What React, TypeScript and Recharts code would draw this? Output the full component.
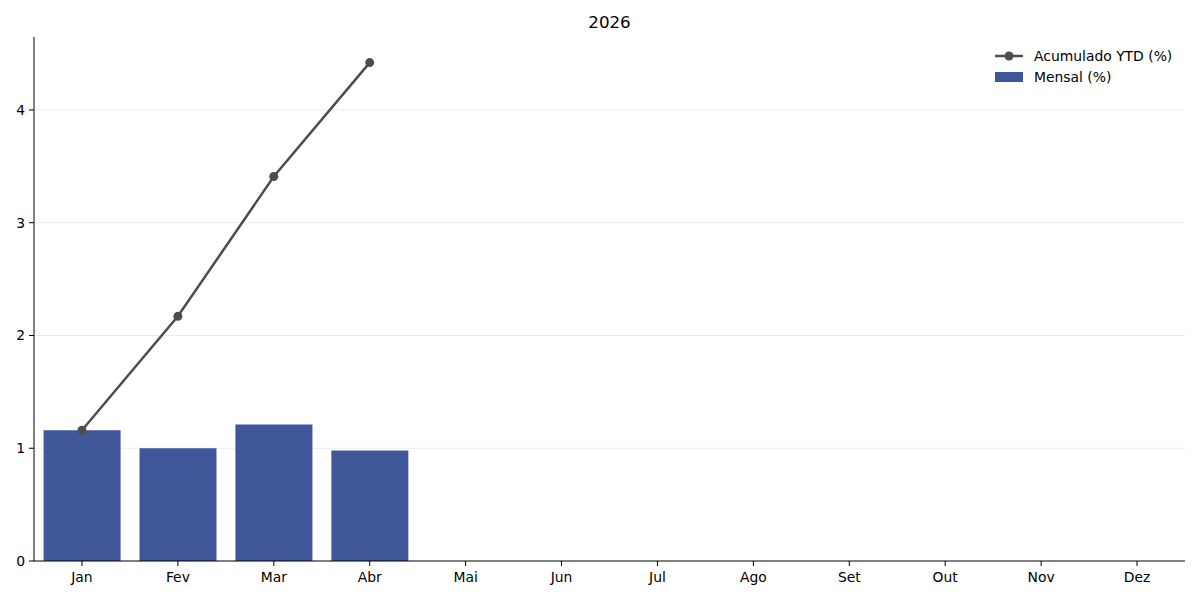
import {
  Bar,
  CartesianGrid,
  ComposedChart,
  Line,
  XAxis,
  YAxis,
} from "recharts";

const months = ["Jan", "Fev", "Mar", "Abr", "Mai", "Jun", "Jul", "Ago", "Set", "Out", "Nov", "Dez"];
const monthly = [1.16, 1.0, 1.21, 0.98];
const ytd = [1.16, 2.17, 3.41, 4.42];
const yTicks = [0, 1, 2, 3, 4];
const gridValues = [1, 2, 3, 4];

const data = months.map((m, i) => ({
  month: m,
  mensal: i < monthly.length ? monthly[i] : null,
  ytd: i < ytd.length ? ytd[i] : null,
}));

const FONT = "'DejaVu Sans', sans-serif";
const BAR_COLOR = "#3f5799";
const LINE_COLOR = "#4d4d4d";
const FS = 13.9;

function Legend() {
  return (
    <div
      style={{
        position: "absolute",
        left: 995,
        top: 46,
        fontFamily: FONT,
        fontSize: FS,
        color: "#000",
        lineHeight: "20px",
      }}
    >
      <div style={{ display: "flex", alignItems: "center" }}>
        <svg width={28} height={20} style={{ marginRight: 11 }}>
          <line x1={0} y1={10} x2={28} y2={10} stroke={LINE_COLOR} strokeWidth={2.5} />
          <circle cx={14} cy={10} r={4.5} fill={LINE_COLOR} />
        </svg>
        <span>Acumulado YTD (%)</span>
      </div>
      <div style={{ display: "flex", alignItems: "center", marginTop: 1 }}>
        <svg width={28} height={20} style={{ marginRight: 11 }}>
          <rect x={0} y={5} width={28} height={10} fill={BAR_COLOR} />
        </svg>
        <span>Mensal (%)</span>
      </div>
    </div>
  );
}

export default function App() {
  return (
    <div
      style={{
        position: "fixed",
        left: 0,
        top: 0,
        width: 1200,
        height: 600,
        background: "#fff",
        fontFamily: FONT,
      }}
    >
      <div
        style={{
          position: "absolute",
          top: 12,
          left: 34,
          width: 1151,
          textAlign: "center",
          fontSize: 16.7,
        }}
      >
        2026
      </div>
      <ComposedChart
        width={1200}
        height={600}
        data={data}
        margin={{ top: 37, right: 15, left: 0, bottom: 0 }}
        barCategoryGap="10%"
      >
        <CartesianGrid
          vertical={false}
          horizontalValues={gridValues}
          stroke="#ebebeb"
          strokeWidth={1}
        />
        <XAxis
          dataKey="month"
          height={39}
          tick={{ fill: "#000", fontSize: FS, fontFamily: FONT }}
          tickSize={5}
          tickMargin={6}
          axisLine={{ stroke: "#000", strokeWidth: 1 }}
          tickLine={{ stroke: "#000" }}
        />
        <YAxis
          width={34}
          domain={[0, 4.647]}
          ticks={yTicks}
          allowDataOverflow
          tick={{ fill: "#000", fontSize: FS, fontFamily: FONT }}
          tickSize={5}
          tickMargin={4}
          axisLine={{ stroke: "#000", strokeWidth: 1 }}
          tickLine={{ stroke: "#000" }}
        />
        <Bar dataKey="mensal" fill={BAR_COLOR} isAnimationActive={false} />
        <Line
          dataKey="ytd"
          stroke={LINE_COLOR}
          strokeWidth={2.5}
          dot={{ r: 4.5, fill: LINE_COLOR, stroke: LINE_COLOR, strokeWidth: 0 }}
          activeDot={false}
          isAnimationActive={false}
          connectNulls={false}
        />
      </ComposedChart>
      <Legend />
    </div>
  );
}
